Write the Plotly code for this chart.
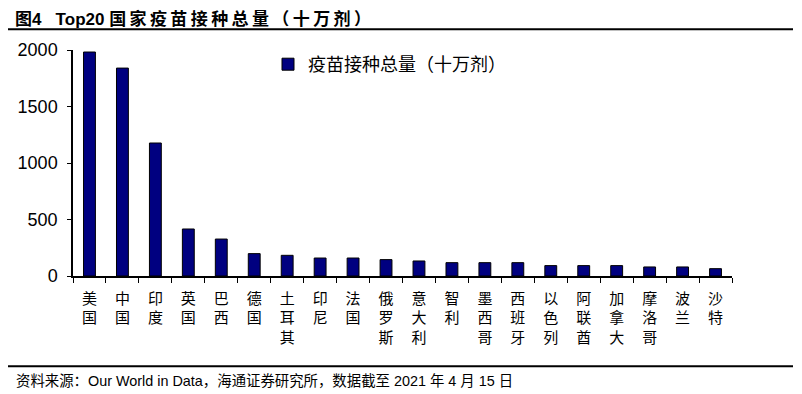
import plotly.graph_objects as go

countries = ["美国", "中国", "印度", "英国", "巴西", "德国", "土耳其", "印尼", "法国", "俄罗斯",
             "意大利", "智利", "墨西哥", "西班牙", "以色列", "阿联酋", "加拿大", "摩洛哥", "波兰", "沙特"]
doses = [1982, 1840, 1177, 416, 327, 198, 183, 159, 159, 145,
         133, 118, 118, 118, 92, 92, 92, 80, 80, 65]
y_ticks = [0, 500, 1000, 1500, 2000]
series_name = "疫苗接种总量（十万剂）"
title_prefix = "图4   Top20 "
title_cjk = "国家疫苗接种总量（十万剂）"
source_text = "资料来源：Our World in Data，海通证券研究所，数据截至 2021 年 4 月 15 日"

tick_text = ["<br>".join(list(c)) for c in countries]
title_text = "<b>" + title_prefix + "\u2009".join(list(title_cjk)) + "</b>"

FONT = "Liberation Sans, Arial, Noto Sans CJK SC"
CJK = "Noto Sans CJK SC, Liberation Sans"

# page has an 8px body margin; work in reference pixels and shift
OFF = 8
W, H = 802 - OFF, 394 - OFF
AX_L, AX_R, AX_T, AX_B = 73, 732, 50, 276  # reference pixel positions of plot area
L = AX_L - OFF
R = W - (AX_R - OFF)
T = AX_T - OFF
B = H - (AX_B - OFF)
pw, ph = W - L - R, H - T - B


def px_x(p):
    return (p - OFF - L) / pw


def px_y(p):
    return (H - B - (p - OFF)) / ph


fig = go.Figure()
fig.add_trace(go.Bar(
    x=countries, y=doses, name=series_name,
    marker=dict(color="#000080", line=dict(color="#000000", width=1)),
    width=0.36, showlegend=True,
))

fig.update_layout(
    width=W, height=H,
    margin=dict(l=L, r=R, t=T, b=B, autoexpand=False),
    plot_bgcolor="white", paper_bgcolor="white",
    font=dict(family=FONT, color="black", size=15),
    showlegend=True,
    legend=dict(x=px_x(268), y=px_y(46), xanchor="left", yanchor="top",
                bgcolor="rgba(0,0,0,0)", font=dict(family=CJK, size=18),
                itemwidth=30, tracegroupgap=0),
    xaxis=dict(
        type="category", tickmode="array", tickvals=countries, ticktext=tick_text,
        tickson="boundaries", ticks="outside", ticklen=5, tickcolor="black",
        showline=True, linecolor="black", linewidth=1.5,
        tickfont=dict(family=CJK, size=15), ticklabelstandoff=8,
        showgrid=False, zeroline=False,
    ),
    yaxis=dict(
        range=[0, 2000], tickvals=y_ticks, ticks="outside", ticklen=4, tickcolor="black",
        showline=True, linecolor="black", linewidth=1.5, showgrid=False, zeroline=False,
        tickfont=dict(family=FONT, size=18), ticklabelstandoff=6,
    ),
)

fig.add_shape(type="line", xref="paper", yref="paper",
              x0=px_x(3), x1=px_x(793), y0=px_y(29.3), y1=px_y(29.3),
              line=dict(color="black", width=2))
fig.add_shape(type="line", xref="paper", yref="paper",
              x0=px_x(3), x1=px_x(793), y0=px_y(366.3), y1=px_y(366.3),
              line=dict(color="black", width=2))

fig.add_annotation(text=title_text, xref="paper", yref="paper",
                   x=px_x(14), y=px_y(8), xanchor="left", yanchor="top",
                   borderpad=0, showarrow=False,
                   font=dict(family=FONT, size=17, color="black"))
fig.add_annotation(text=source_text, xref="paper", yref="paper",
                   x=px_x(14), y=px_y(381), xanchor="left", yanchor="middle",
                   showarrow=False, font=dict(family=FONT, size=14.4, color="black"))

fig.write_html("out.html")
